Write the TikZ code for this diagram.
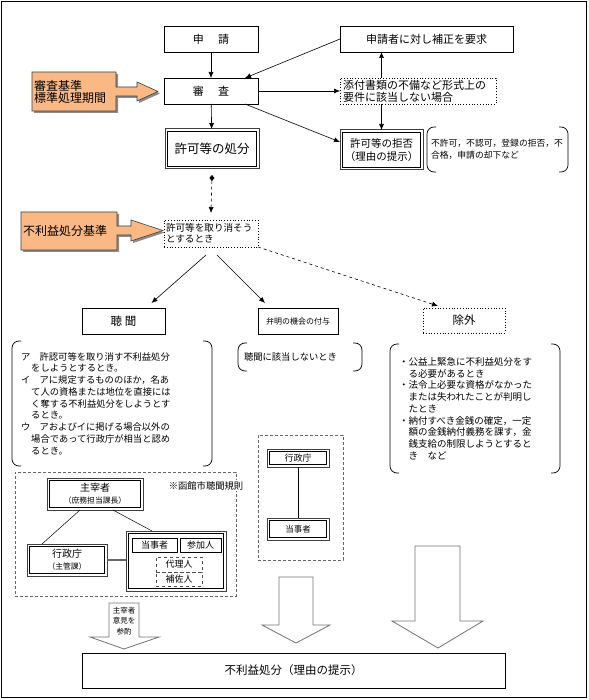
\documentclass[tikz,border=0pt]{standalone}
\usepackage{fontspec}
\setmainfont{Noto Sans CJK JP}
\usetikzlibrary{arrows.meta,calc}
\newcommand\fs[2]{\fontsize{#1}{#2}\selectfont}
\definecolor{orng}{RGB}{250,184,132}
\newcommand\brackets[1]{%
 \draw[brk] ([xshift=9pt]#1.north west) -- (#1.north west) -- (#1.south west) -- ([xshift=9pt]#1.south west);
 \draw[brk] ([xshift=-9pt]#1.north east) -- (#1.north east) -- (#1.south east) -- ([xshift=-9pt]#1.south east);}
\newcommand\dbl[1]{\draw[line width=0.6pt] ([xshift=2.4pt,yshift=2.4pt]#1.south west) rectangle ([xshift=-2.4pt,yshift=-2.4pt]#1.north east);}
\begin{document}
\begin{tikzpicture}[x=1pt,y=-1pt,
  every node/.style={inner sep=0pt, outer sep=0pt},
  box/.style={draw, line width=0.7pt, fill=white},
  dbox/.style={draw=black!75, line width=1pt, fill=white},
  dotbox/.style={draw, dotted, line width=0.8pt, fill=white},
  dashreg/.style={draw=black!60, dash pattern=on 3pt off 2pt, line width=0.8pt},
  brk/.style={line width=0.7pt, rounded corners=7pt},
  arr/.style={-{Latex[length=6pt,width=5pt]}, line width=0.6pt},
  hollow/.style={draw=black!55, line width=0.8pt, fill=white},
  orangeshape/.style={fill=orng, draw=black!75, line width=0.6pt},
]
\useasboundingbox (0,0) rectangle (588,700);
\draw[line width=0.8pt] (1,1) rectangle (586,697);

% orange arrows
\fill[black!45] (34,74) -- (118,74) -- (118,89) -- (139,89) -- (139,84) -- (160,93.5) -- (139,103) -- (139,98) -- (118,98) -- (118,113) -- (34,113) -- cycle;
\draw[orangeshape] (32,72) -- (116,72) -- (116,87) -- (137,87) -- (137,82) -- (158,91.5) -- (137,101) -- (137,96) -- (116,96) -- (116,111) -- (32,111) -- cycle;
\node[anchor=west, align=left, font=\fs{12}{12.5}] (std1) at (34,92) {審査基準\\標準処理期間};
\fill[black!45] (23,214) -- (119,214) -- (119,228) -- (133,228) -- (133,222) -- (165,232.5) -- (133,243) -- (133,237) -- (119,237) -- (119,252) -- (23,252) -- cycle;
\draw[orangeshape] (21,212) -- (117,212) -- (117,226) -- (131,226) -- (131,220) -- (163,230.5) -- (131,241) -- (131,235) -- (117,235) -- (117,250) -- (21,250) -- cycle;
\node[anchor=west, font=\fs{12}{12.5}] (std2) at (23,231) {不利益処分基準};

% top flow
\node[box, minimum width=94, minimum height=26, font=\fs{11}{12}] (shinsei) at (211,39) {申\hspace{1.3em}請};
\node[box, minimum width=94, minimum height=26, font=\fs{11}{12}] (shinsa) at (211,91) {審\hspace{1.3em}査};
\node[dbox, minimum width=94, minimum height=40, font=\fs{12.5}{13}] (kyoka) at (212,149) {許可等の処分};
\dbl{kyoka}
\node[box, minimum width=173, minimum height=26, font=\fs{11}{12}] (hosei) at (426.5,39) {申請者に対し補正を要求};
\node[dotbox, minimum width=156, minimum height=26, text width=150, align=left, font=\fs{11}{12}] (tenpu) at (418,91) {添付書類の不備など形式上の\\要件に該当しない場合};
\node[dbox, minimum width=83, minimum height=40, align=center, font=\fs{10.5}{13}] (kyohi) at (381.5,150) {許可等の拒否\\（理由の提示）};
\dbl{kyohi}
\node[minimum width=141, minimum height=45, text width=133, align=left, font=\fs{8.8}{12}] (kyohinote) at (497.5,149.5) {不許可，不認可，登録の拒否，不\\合格，申請の却下など};
\brackets{kyohinote}

\draw[arr] (shinsei) -- (shinsa);
\draw[arr] (shinsa) -- (kyoka);
\draw[arr] (hosei.west) -- ([xshift=-13pt]shinsa.north east);
\draw[arr] (shinsa.east) -- (tenpu.west);
\draw[arr] (tenpu.north -| kyohi.north) -- (hosei.south -| kyohi.north);
\draw[arr] (tenpu.south -| kyohi.north) -- (kyohi.north);
\draw[arr] ([xshift=-13pt]shinsa.south east) -- ([yshift=8pt]kyohi.west);

% revoke
\node[dotbox, minimum width=94, minimum height=27, text width=90, align=left, font=\fs{9.6}{11}] (torikeshi) at (211,233.5) {許可等を取り消そう\\とするとき};
\draw[dashed, line width=0.6pt, {Diamond[length=6pt,width=5pt]}-{Latex[length=6pt,width=5pt]}] ([yshift=-6pt]kyoka.south) -- ([yshift=7pt]torikeshi.north);

\node[box, minimum width=83, minimum height=26, font=\fs{11.5}{12}] (chokan) at (123.5,321) {聴\hspace{3pt}聞};
\node[box, minimum width=80, minimum height=26, font=\fs{8}{9}] (benmei) at (298,321) {弁明の機会の付与};
\node[dotbox, minimum width=82, minimum height=25, font=\fs{11.5}{12}] (jogai) at (464,320.5) {除外};

\draw[arr] ([xshift=-5pt,yshift=-8pt]torikeshi.south) -- ([xshift=28pt,yshift=5pt]chokan.north);
\draw[arr] ([xshift=6pt,yshift=-8pt]torikeshi.south) -- ([xshift=-33pt,yshift=5pt]benmei.north);
\draw[arr, dashed] (torikeshi.south east) -- ([xshift=-26pt,yshift=2pt]jogai.north);

% notes
\node[minimum width=200, minimum height=125, text width=182, align=left, font=\fs{9.3}{11.75}] (chokannote) at (112,403.5) {ア　許認可等を取り消す不利益処分\\
\hspace*{1.1em}をしようとするとき。\\
イ　アに規定するもののほか，名あ\\
\hspace*{1.1em}て人の資格または地位を直接には\\
\hspace*{1.1em}く奪する不利益処分をしようとす\\
\hspace*{1.1em}るとき。\\
ウ　アおよびイに掲げる場合以外の\\
\hspace*{1.1em}場合であって行政庁が相当と認め\\
\hspace*{1.1em}るとき。};
\brackets{chokannote}
\node[minimum width=124, minimum height=28, text width=112, align=left, font=\fs{9.3}{11}] (benmeinote) at (300,357) {聴聞に該当しないとき};
\brackets{benmeinote}
\node[minimum width=170, minimum height=129, text width=152, align=left, font=\fs{9.5}{11.75}] (jogainote) at (475,408.5) {・公益上緊急に不利益処分をす\\
\hspace*{1em}る必要があるとき\\
・法令上必要な資格がなかった\\
\hspace*{1em}または失われたことが判明し\\
\hspace*{1em}たとき\\
・納付すべき金銭の確定，一定\\
\hspace*{1em}額の金銭納付義務を課す，金\\
\hspace*{1em}銭支給の制限しようとすると\\
\hspace*{1em}き　など};
\brackets{jogainote}

% hearing structure
\node[dashreg, minimum width=221, minimum height=124] (chokanreg) at (125.5,534) {};
\node[fill=white, inner sep=1pt, font=\fs{9.3}{10}] (kisoku) at (206,485.5) {※函館市聴聞規則};
\node[dbox, minimum width=96, minimum height=32, align=center, font=\fs{10}{12}] (shusaisha) at (95,494) {主宰者\\{\fs{7.8}{10}（庶務担当課長）}};
\dbl{shusaisha}
\node[dbox, minimum width=80, minimum height=32, align=center, font=\fs{10}{12}] (gyosei1) at (67,560) {行政庁\\{\fs{7.8}{10}（主管課）}};
\dbl{gyosei1}
\node[dbox, minimum width=100, minimum height=60] (group) at (176,561) {};
\dbl{group}
\node[box, minimum width=45, minimum height=14, font=\fs{9}{10}] (tojisha1) at (154.5,545) {当事者};
\node[box, minimum width=41, minimum height=14, font=\fs{9}{10}] (sankanin) at (200.5,545) {参加人};
\node[draw=black!70, dashed, line width=0.6pt, minimum width=46, minimum height=15, font=\fs{9}{10}] (dairi) at (179,564.5) {代理人};
\node[draw=black!70, dashed, line width=0.6pt, minimum width=46, minimum height=14, font=\fs{9}{10}] (hosa) at (179,579) {補佐人};
\draw[line width=0.5pt] ([xshift=-15pt]shusaisha.south) -- ([xshift=-25pt]gyosei1.north);
\draw[line width=0.5pt] ([xshift=18pt]shusaisha.south) -- ([xshift=-24pt]group.north);
\draw[line width=1.3pt, black!60] (gyosei1.east) -- (group.west |- gyosei1.east);

% benmei structure
\node[dashreg, minimum width=85, minimum height=125] (benmeireg) at (300.5,497.5) {};
\node[dbox, minimum width=62, minimum height=18, font=\fs{9}{10}] (gyosei2) at (298,458) {行政庁};
\dbl{gyosei2}
\node[dbox, minimum width=62, minimum height=22, font=\fs{8.5}{10}] (tojisha2) at (298,529) {当事者};
\dbl{tojisha2}
\draw[line width=0.6pt] (gyosei2) -- (tojisha2);

% hollow arrows
\draw[hollow] (279,577) -- (313,577) -- (313,625) -- (330,625) -- (296,643) -- (262,625) -- (279,625) -- cycle;
\draw[hollow] (415,546) -- (460,546) -- (460,621) -- (483,621) -- (438,648) -- (392,621) -- (415,621) -- cycle;
\draw[hollow] (109,603) -- (139,603) -- (139,637) -- (159,637) -- (124,649) -- (90,637) -- (109,637) -- cycle;
\node[align=center, font=\fs{7.5}{10.5}] (sanshaku) at (124,621) {主宰者\\意見を\\参酌};

% final
\node[draw, line width=1pt, minimum width=423, minimum height=35, font=\fs{11.5}{12}] (final) at (293.5,670.5) {不利益処分（理由の提示）};
\end{tikzpicture}
\end{document}
